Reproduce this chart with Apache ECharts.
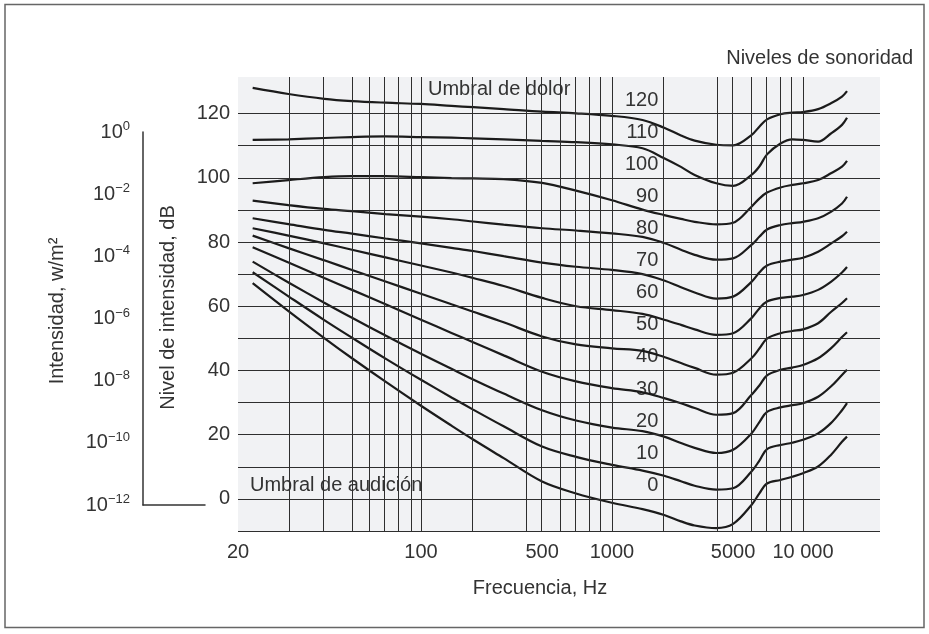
<!DOCTYPE html>
<html>
<head>
<meta charset="utf-8">
<script src="https://cdn.jsdelivr.net/npm/echarts/dist/echarts.min.js"></script>
<style>
  html, body { margin: 0; padding: 0; background: #ffffff; }
  #chart { width: 929px; height: 634px; }
</style>
</head>
<body>
<div id="chart"></div>
<script>
// Frequencies (Hz) at which every contour is sampled
const FREQ_HZ = [22.5, 30, 40, 50, 70, 100, 150, 200, 300, 500, 700, 1000, 1500, 2000,
  2500, 3000, 4000, 5000, 6000, 6500, 7000, 8000, 9000, 10000, 12000, 14000, 16000, 17000];

// Equal-loudness contours, from the top one (threshold of pain) down to the threshold of hearing, in dB
const isophon01 = [128.0, 126.1, 124.6, 123.9, 123.4, 123.0, 122.4, 122.0, 121.4, 120.6, 120.1, 119.3, 118.0, 115.6,
  113.2, 111.6, 110.3, 110.1, 113.3, 116.0, 118.2, 119.8, 120.3, 120.5, 121.4, 123.2, 125.3, 127.0];
const isophon02 = [111.8, 112.0, 112.4, 112.7, 112.9, 112.7, 112.5, 112.3, 112.0, 111.5, 111.1, 110.4, 109.2, 106.1,
  103.4, 100.9, 98.3, 97.5, 100.9, 103.6, 107.3, 110.7, 112.0, 111.8, 111.3, 113.8, 116.5, 118.7];
const isophon03 = [98.3, 99.3, 100.2, 100.5, 100.5, 100.2, 99.9, 99.8, 99.6, 98.4, 96.0, 93.0, 90.1, 88.4,
  87.2, 86.3, 85.5, 86.0, 91.0, 93.6, 95.4, 97.0, 97.8, 98.3, 99.3, 101.4, 103.5, 105.3];
const isophon04 = [92.9, 91.5, 90.3, 89.6, 88.7, 87.9, 87.1, 86.4, 85.4, 84.3, 83.6, 82.7, 81.6, 79.7,
  77.6, 76.0, 74.5, 74.9, 79.1, 81.7, 83.9, 85.3, 85.9, 86.3, 87.4, 89.4, 92.0, 94.1];
const isophon05 = [87.4, 85.6, 83.8, 82.6, 81.1, 79.6, 78.2, 77.2, 75.6, 73.6, 72.3, 71.3, 70.0, 68.0,
  65.9, 64.3, 62.4, 63.0, 67.6, 70.6, 72.7, 73.9, 74.5, 75.1, 77.0, 79.5, 81.8, 83.2];
const isophon06 = [84.3, 82.0, 79.6, 77.6, 75.2, 72.7, 70.5, 68.8, 66.3, 62.6, 60.0, 58.8, 57.6, 55.8,
  54.2, 52.8, 51.1, 51.6, 56.3, 59.4, 61.5, 62.6, 63.0, 63.5, 65.1, 67.6, 70.5, 72.2];
const isophon07 = [82.0, 78.1, 74.3, 71.3, 67.7, 63.9, 60.6, 58.3, 55.0, 50.6, 48.1, 46.9, 46.1, 44.2,
  42.3, 40.8, 38.7, 39.3, 43.8, 46.9, 49.9, 51.6, 52.3, 52.8, 54.7, 58.2, 61.0, 62.5];
const isophon08 = [78.4, 73.6, 68.8, 65.1, 60.6, 55.8, 51.7, 48.8, 44.7, 39.6, 36.6, 34.5, 33.2, 31.4,
  29.8, 28.3, 26.2, 26.7, 32.4, 35.4, 38.5, 40.2, 40.9, 41.7, 43.8, 46.9, 50.4, 51.9];
const isophon09 = [73.9, 67.4, 61.1, 56.4, 50.9, 45.2, 40.5, 37.2, 32.8, 27.6, 24.4, 22.2, 21.1, 19.4,
  17.4, 15.9, 14.3, 15.3, 20.4, 24.0, 27.1, 28.5, 29.2, 29.8, 31.8, 35.0, 38.6, 40.2];
const isophon10 = [70.6, 63.1, 55.7, 50.2, 43.7, 37.1, 31.6, 27.8, 22.6, 16.3, 13.1, 10.6, 8.8, 7.2,
  5.5, 4.1, 2.9, 3.3, 8.5, 12.0, 15.5, 16.8, 17.5, 18.4, 20.4, 23.6, 27.6, 29.8];
const isophon11 = [67.2, 58.5, 50.1, 43.8, 36.5, 29.0, 22.8, 18.5, 12.7, 5.4, 1.7, -1.2, -3.2, -5.0,
  -7.0, -8.3, -9.1, -7.8, -1.9, 1.8, 4.8, 5.9, 6.9, 8.0, 10.1, 13.7, 17.8, 19.4];

// Loudness-level ladder (phon) printed beside the contours
const PHON_LEVELS = [120, 110, 100, 90, 80, 70, 60, 50, 40, 30, 20, 10, 0];

// Axis ticks and rulings
const DB_TICKS = [0, 20, 40, 60, 80, 100, 120];
const DB_RULES = [-10, 0, 10, 20, 30, 40, 50, 60, 70, 80, 90, 100, 110, 120];
const HZ_TICKS = [20, 100, 500, 1000, 5000, 10000];
const HZ_TICK_TEXT = ['20', '100', '500', '1000', '5000', '10 000'];
const HZ_RULES = [20, 30, 40, 50, 60, 70, 80, 90, 100, 200, 400, 500, 600, 700, 800, 900, 1000,
  2000, 4000, 5000, 6000, 7000, 8000, 9000, 10000];
const INTENSITY_EXP = [0, -2, -4, -6, -8, -10, -12];

// The printed frequency scale is logarithmic but its segments are not evenly stretched:
// knots in Hz and their position along the axis, in decade units.
const SCALE_HZ = [20, 50, 100, 500, 1000, 5000, 10000, 100000];
const SCALE_U = [1.042, 1.639, 2, 2.634, 3, 3.634, 4, 5];
const X_MAX_HZ = 25300;
const LABEL_HZ = 1850;

function hzToU(f) {
  const lf = Math.log10(f);
  for (let i = 0; i < SCALE_HZ.length - 1; i++) {
    const a = Math.log10(SCALE_HZ[i]), b = Math.log10(SCALE_HZ[i + 1]);
    if (lf <= b || i === SCALE_HZ.length - 2) {
      return SCALE_U[i] + (lf - a) / (b - a) * (SCALE_U[i + 1] - SCALE_U[i]);
    }
  }
}

const FONT = 'Liberation Sans, Arial, sans-serif';
const TEXT = '#333333';
const INK = '#1b1b1b';
const RULE = '#2e2e2e';

const contours = [isophon01, isophon02, isophon03, isophon04, isophon05, isophon06,
  isophon07, isophon08, isophon09, isophon10, isophon11];

const curveSeries = contours.map((vals, k) => ({
  name: 'contour ' + (k + 1),
  type: 'line',
  xAxisIndex: 0, yAxisIndex: 0,
  data: FREQ_HZ.map((f, i) => [hzToU(f), vals[i]]),
  showSymbol: false,
  smooth: 0.35,
  silent: true,
  animation: false,
  z: 4,
  lineStyle: { color: INK, width: 2.2 }
}));

const chart = echarts.init(document.getElementById('chart'), null, { renderer: 'canvas' });

chart.setOption({
  backgroundColor: '#ffffff',
  animation: false,
  textStyle: { fontFamily: FONT },
  grid: [
    { left: 238, right: 49, top: 77, bottom: 103, show: true, backgroundColor: '#f1f2f4', borderWidth: 0, z: 0 },
    { left: 143, top: 132, width: 62, height: 373 }
  ],
  xAxis: [
    {
      gridIndex: 0, type: 'value', min: hzToU(20), max: hzToU(X_MAX_HZ),
      axisLine: { show: false, onZero: false }, axisTick: { show: false }, splitLine: { show: false },
      axisLabel: {
        customValues: HZ_TICKS.map(hzToU),
        formatter: v => {
          const i = HZ_TICKS.findIndex(f => Math.abs(hzToU(f) - v) < 1e-6);
          return i >= 0 ? HZ_TICK_TEXT[i] : '';
        },
        fontSize: 20, color: TEXT, fontFamily: FONT, margin: 11
      }
    },
    {
      gridIndex: 1, type: 'value', min: 0, max: 1,
      axisLine: { show: true, onZero: false, lineStyle: { color: '#333', width: 1.5 } },
      axisTick: { show: false }, axisLabel: { show: false }, splitLine: { show: false }
    }
  ],
  yAxis: [
    {
      gridIndex: 0, type: 'value', min: -10, max: 131.4,
      axisLine: { show: false, onZero: false }, axisTick: { show: false }, splitLine: { show: false },
      axisLabel: { customValues: DB_TICKS, fontSize: 20, color: TEXT, fontFamily: FONT, margin: 8 }
    },
    {
      gridIndex: 1, type: 'value', min: -12, max: 0, interval: 2,
      axisLine: { show: true, onZero: false, lineStyle: { color: '#333', width: 1.5 } },
      axisTick: { show: false }, splitLine: { show: false },
      axisLabel: {
        margin: 13,
        customValues: INTENSITY_EXP,
        formatter: v => '{b|10}{s|' + (v === 0 ? '0' : '\u2212' + Math.abs(v)) + '}',
        rich: {
          b: { fontSize: 20, lineHeight: 24, color: TEXT, fontFamily: FONT },
          s: { fontSize: 13, lineHeight: 19, verticalAlign: 'top', color: TEXT, fontFamily: FONT }
        }
      }
    }
  ],
  series: [
    {
      name: 'rules',
      type: 'line',
      xAxisIndex: 0, yAxisIndex: 0,
      data: [],
      silent: true,
      z: 3,
      markLine: {
        silent: true,
        animation: false,
        symbol: ['none', 'none'],
        label: { show: false },
        emphasis: { disabled: true },
        lineStyle: { color: RULE, width: 1, type: 'solid' },
        data: DB_RULES.map(v => ({ yAxis: v })).concat(HZ_RULES.map(f => ({ xAxis: hzToU(f) })))
      }
    },
    {
      name: 'phon',
      type: 'scatter',
      xAxisIndex: 0, yAxisIndex: 0,
      symbolSize: 0,
      silent: true,
      z: 2,
      itemStyle: { opacity: 1 },
      data: PHON_LEVELS.map(l => [hzToU(LABEL_HZ), l]),
      label: {
        show: true,
        position: 'left',
        distance: 0,
        offset: [0, -13.5],
        opacity: 1,
        formatter: p => String(p.value[1]),
        fontSize: 20, color: TEXT, fontFamily: FONT
      }
    }
  ].concat(curveSeries),
  graphic: [
    {
      type: 'rect', z: 0, silent: true,
      shape: { x: 5, y: 4.5, width: 919, height: 623 },
      style: { fill: 'none', stroke: '#666', lineWidth: 1.5 }
    },
    {
      type: 'text', x: 913, y: 58, z: 1, silent: true,
      style: { text: 'Niveles de sonoridad', fill: TEXT, font: '20px ' + FONT,
        align: 'right', textAlign: 'right', verticalAlign: 'middle', textVerticalAlign: 'middle' }
    },
    {
      type: 'text', x: 428, y: 89, z: 1, silent: true,
      style: { text: 'Umbral de dolor', fill: TEXT, font: '20px ' + FONT,
        align: 'left', textAlign: 'left', verticalAlign: 'middle', textVerticalAlign: 'middle' }
    },
    {
      type: 'text', x: 250, y: 485, z: 1, silent: true,
      style: { text: 'Umbral de audición', fill: TEXT, font: '20px ' + FONT,
        align: 'left', textAlign: 'left', verticalAlign: 'middle', textVerticalAlign: 'middle' }
    },
    {
      type: 'text', x: 540, y: 588, z: 1, silent: true,
      style: { text: 'Frecuencia, Hz', fill: TEXT, font: '20px ' + FONT,
        align: 'center', textAlign: 'center', verticalAlign: 'middle', textVerticalAlign: 'middle' }
    },
    {
      type: 'text', x: 168.5, y: 307.5, rotation: Math.PI / 2, z: 1, silent: true,
      style: { text: 'Nivel de intensidad, dB', fill: TEXT, font: '20px ' + FONT,
        align: 'center', textAlign: 'center', verticalAlign: 'middle', textVerticalAlign: 'middle' }
    },
    {
      type: 'text', x: 57.5, y: 311, rotation: Math.PI / 2, z: 1, silent: true,
      style: { text: 'Intensidad, w/m²', fill: TEXT, font: '20px ' + FONT,
        align: 'center', textAlign: 'center', verticalAlign: 'middle', textVerticalAlign: 'middle' }
    }
  ]
});
</script>
</body>
</html>
